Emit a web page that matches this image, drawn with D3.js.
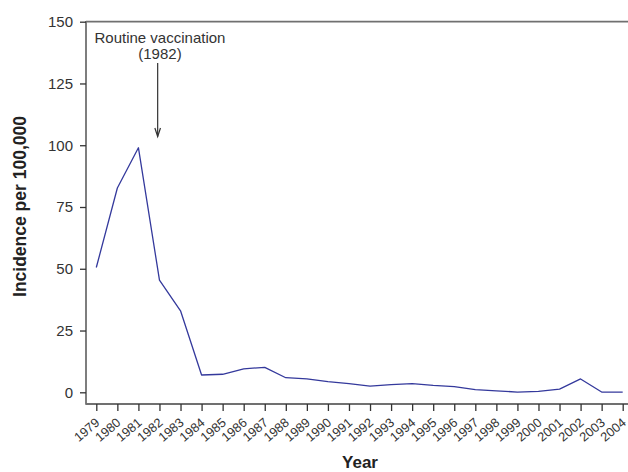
<!DOCTYPE html>
<html>
<head>
<meta charset="utf-8">
<script src="https://cdn.jsdelivr.net/npm/d3@7"></script>
<style>
  html, body { margin: 0; padding: 0; background: #fff; }
  svg { display: block; }
  text { font-family: "Liberation Sans", Arial, Helvetica, sans-serif; }
</style>
</head>
<body>
<svg id="chart" width="628" height="472"></svg>
<script>
const years = [1979,1980,1981,1982,1983,1984,1985,1986,1987,1988,1989,1990,1991,1992,1993,1994,1995,1996,1997,1998,1999,2000,2001,2002,2003,2004];
const incidence = [50.5,82.7,99.0,45.4,33.0,7.0,7.3,9.5,10.1,5.9,5.4,4.3,3.5,2.5,3.1,3.5,2.8,2.3,1.1,0.6,0.1,0.4,1.3,5.4,0.1,0.1];
const yTicks = [0,25,50,75,100,125,150];
const annotationLines = ["Routine vaccination", "(1982)"];
const annotationYear = 1982;
const xTitle = "Year";
const yTitle = "Incidence per 100,000";

const svg = d3.select("#chart");
const axisColor = "#707070";
const textColor = "#333";

const x = d3.scalePoint().domain(years).range([96.3, 622.7]);
const y = d3.scaleLinear().domain([0, 150]).range([392.3, 21.7]);

const axisLeftX = 86, axisBottomY = 404, rightEdge = 628;

// frame lines: left axis, bottom axis, top line
svg.append("line").attr("x1", axisLeftX).attr("x2", axisLeftX)
  .attr("y1", y(150) - 0.8).attr("y2", axisBottomY + 0.8)
  .attr("stroke", axisColor).attr("stroke-width", 1.8);
svg.append("line").attr("x1", axisLeftX).attr("x2", rightEdge)
  .attr("y1", axisBottomY).attr("y2", axisBottomY)
  .attr("stroke", axisColor).attr("stroke-width", 1.8);
svg.append("line").attr("x1", axisLeftX).attr("x2", rightEdge)
  .attr("y1", y(150)).attr("y2", y(150))
  .attr("stroke", axisColor).attr("stroke-width", 1.8);

// y axis
const yAxis = svg.append("g").attr("transform", `translate(${axisLeftX},0)`)
  .call(d3.axisLeft(y).tickValues(yTicks).tickSize(6).tickPadding(7).tickFormat(d3.format("d")));
yAxis.select(".domain").remove();
yAxis.selectAll(".tick line").attr("stroke", "#333").attr("stroke-width", 1.3);
yAxis.selectAll(".tick text").attr("fill", textColor).style("font-size", "15px");

// x axis
const xAxis = svg.append("g").attr("transform", `translate(0,${axisBottomY})`)
  .call(d3.axisBottom(x).tickSize(7).tickFormat(d3.format("d")));
xAxis.select(".domain").remove();
xAxis.selectAll(".tick line").attr("stroke", "#333").attr("stroke-width", 1.3);
xAxis.selectAll(".tick text")
  .attr("fill", textColor).style("font-size", "12.8px")
  .attr("text-anchor", "end")
  .attr("x", -10).attr("y", 17.7).attr("dy", 0)
  .attr("transform", "rotate(-40)");

// data line
const line = d3.line().x((d, i) => x(years[i])).y(d => y(d));
svg.append("path").datum(incidence)
  .attr("d", line).attr("fill", "none")
  .attr("stroke", "#34399c").attr("stroke-width", 1.3).attr("stroke-linejoin", "round");

// annotation
const ax = x(annotationYear);
const ann = svg.append("text").attr("text-anchor", "middle").attr("fill", textColor).style("font-size", "15px");
annotationLines.forEach((t, i) => {
  ann.append("tspan").attr("x", ax + 0.5).attr("y", 43 + i * 16).text(t);
});
const arrowX = ax - 1.8;
svg.append("line").attr("x1", arrowX).attr("x2", arrowX).attr("y1", 63).attr("y2", 136.5)
  .attr("stroke", "#333").attr("stroke-width", 1.2);
svg.append("path").attr("d", `M${arrowX - 2.8},${128} L${arrowX},${136.5} L${arrowX + 2.8},${128}`)
  .attr("fill", "none").attr("stroke", "#333").attr("stroke-width", 1.2);

// titles
svg.append("text").attr("x", 360).attr("y", 468).attr("text-anchor", "middle")
  .attr("fill", "#222").style("font-size", "17px").style("font-weight", "bold").text(xTitle);
svg.append("text").attr("transform", "translate(26,206.5) rotate(-90)").attr("text-anchor", "middle")
  .attr("fill", "#222").style("font-size", "17.5px").style("font-weight", "bold").text(yTitle);
</script>
</body>
</html>
